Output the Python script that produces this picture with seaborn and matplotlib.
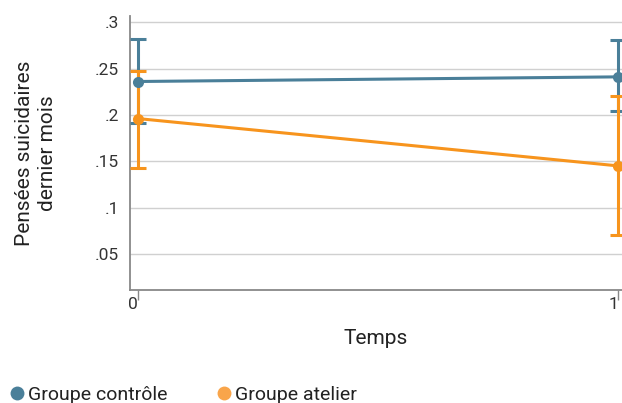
"""
Pensées suicidaires selon le temps
"""
import matplotlib
matplotlib.use('Agg')
import matplotlib.pyplot as plt
import seaborn as sns
import pandas as pd
from matplotlib.lines import Line2D

sns.set_style("white")
plt.rcParams['font.family'] = ['Roboto', 'DejaVu Sans']

# données
temps = [0, 1]
groupes = ['Groupe contrôle', 'Groupe atelier']
controle = [0.236, 0.241]
controle_bas = [0.191, 0.204]
controle_haut = [0.282, 0.281]
atelier = [0.196, 0.145]
atelier_bas = [0.143, 0.071]
atelier_haut = [0.247, 0.220]
y_ticks = [0.05, 0.1, 0.15, 0.2, 0.25, 0.3]
y_labels = ['.05', '.1', '.15', '.2', '.25', '.3']

couleurs = {'Groupe contrôle': '#4a7f99', 'Groupe atelier': '#f7941d'}
couleurs_legende = {'Groupe contrôle': '#4a7f99', 'Groupe atelier': '#f9a54a'}

df = pd.DataFrame({
    'Temps': temps * 2,
    'valeur': controle + atelier,
    'bas': controle_bas + atelier_bas,
    'haut': controle_haut + atelier_haut,
    'groupe': [groupes[0]] * 2 + [groupes[1]] * 2,
})

fig = plt.figure(figsize=(6.22, 4.03), dpi=100)
ax = fig.add_axes([0.209, 0.28, 0.791, 0.68])

for g in groupes:
    d = df[df['groupe'] == g]
    ax.errorbar(d['Temps'], d['valeur'],
                yerr=[d['valeur'] - d['bas'], d['haut'] - d['valeur']],
                fmt='none', ecolor=couleurs[g], elinewidth=2.2, capsize=6, capthick=2.2,
                zorder=3)
    sns.lineplot(data=d, x='Temps', y='valeur', color=couleurs[g], linewidth=2.2,
                 marker='o', markersize=8, markeredgewidth=0, ax=ax, zorder=4,
                 legend=False)

ax.set_xlim(-0.017, 1.008)
ax.set_ylim(0.011, 0.3065)
ax.set_yticks(y_ticks)
ax.set_yticklabels(y_labels)
ax.set_xticks(temps)
ax.set_xticklabels(['0', '1'])
ax.yaxis.grid(True, color='#d0d0d0', linewidth=1)
ax.tick_params(axis='y', left=False, length=0, labelsize=12.5, colors='#333333', pad=8)
ax.tick_params(axis='x', bottom=True, length=7, width=1, color='#888888', direction='out',
               labelsize=12.5, labelcolor='#333333', pad=-2)
for lab in ax.get_xticklabels():
    lab.set_horizontalalignment('right')

for s in ['top', 'right']:
    ax.spines[s].set_visible(False)
for s in ['left', 'bottom']:
    ax.spines[s].set_color('#888888')
    ax.spines[s].set_linewidth(1.3)

ax.set_xlabel('Temps', fontsize=15, color='#222222', labelpad=12)
ax.set_ylabel('Pensées suicidaires\ndernier mois', fontsize=15, color='#222222',
              labelpad=27, linespacing=1.3)

poignees = [Line2D([], [], marker='o', linestyle='none', markersize=10,
                   markeredgewidth=0, color=couleurs_legende[g]) for g in groupes]
fig.legend(poignees, groupes, loc='lower left', bbox_to_anchor=(-0.016, -0.045),
           ncol=2, frameon=False, fontsize=14, handletextpad=0.05,
           columnspacing=2.4, handlelength=1.0, labelcolor='#222222')

plt.savefig('out.png', dpi=100)
plt.close()
